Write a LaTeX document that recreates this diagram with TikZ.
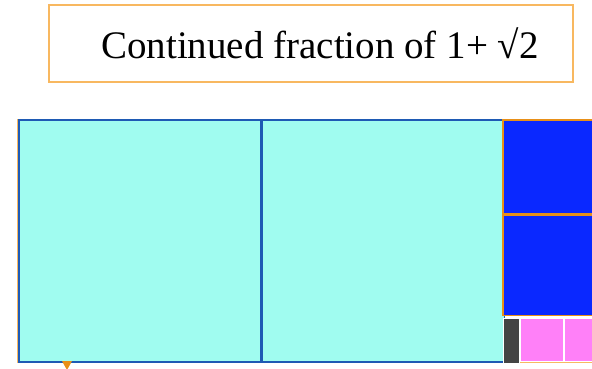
\documentclass[tikz,border=0pt]{standalone}
\usepackage{fontspec}
\setmainfont{Liberation Serif}
\usetikzlibrary{positioning}
\definecolor{aguamar}{HTML}{A0FCF0}
\definecolor{bordeazul}{HTML}{1E5AB4}
\definecolor{azul}{HTML}{0A28FF}
\definecolor{naranja}{HTML}{E89018}
\definecolor{claro}{HTML}{F8B860}
\definecolor{rosa}{HTML}{FF80F8}
\definecolor{gris}{HTML}{444444}

\begin{document}
\begin{tikzpicture}[x=1pt,y=-1pt,
      titulo/.style={draw=claro,line width=1.2pt,minimum width=524pt,minimum height=77pt,
                     font=\fontsize{39}{42}\selectfont,inner sep=0pt},
      grande/.style={draw=bordeazul,fill=aguamar,line width=1.6pt,minimum size=242pt,inner sep=0pt,anchor=north west},
      medio/.style={draw=naranja,fill=azul,line width=1.6pt,minimum width=97pt,inner sep=0pt,anchor=north west},
      chico/.style={draw=white,fill=rosa,line width=1.4pt,minimum width=43pt,minimum height=43pt,inner sep=0pt,anchor=north west}]
    \useasboundingbox (0,0) rectangle (592,368);
    \clip (0,0) rectangle (592,368);
    \node[titulo] (t) at (311,43.5) {\hspace*{18pt}Continued fraction of 1+ √2};
    % rectangulo exterior
    \draw[claro,line width=1.2pt] (18,119.5) rectangle (700,362.5);
    \node[grande] (g1) at (18,119) {};
    \node[grande] (g2) at (g1.north east) {};
    \node[medio,minimum height=94pt] (m1) at (502,119) {};
    \node[medio,minimum height=100pt] (m2) at (m1.south west) {};
    \node[draw=white,fill=gris,line width=1.4pt,minimum width=16pt,minimum height=45pt,
          inner sep=0pt,anchor=north west] (n) at (502.5,317.5) {};
    \node[chico] (c1) at (519.5,318) {};
    \node[chico] (c2) at (c1.north east) {};
    \fill[naranja] (62,361) -- (72,361) -- (67,370) -- cycle;
  \end{tikzpicture}
\end{document}
